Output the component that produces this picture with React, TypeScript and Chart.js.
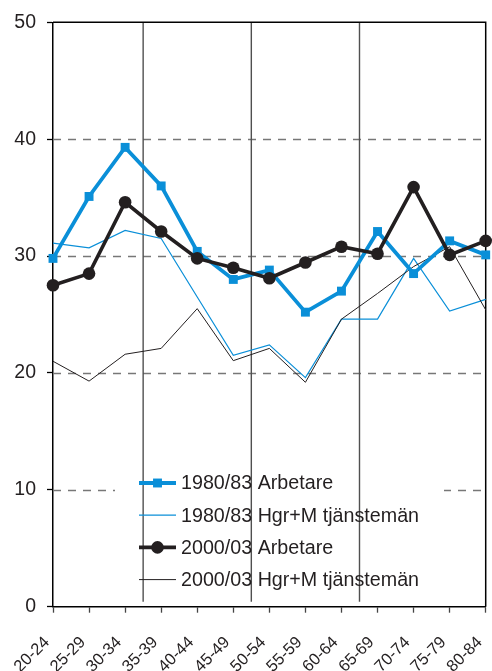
import React, { useEffect, useRef } from "react";
import { Chart, registerables } from "chart.js";

Chart.register(...registerables);

const categories = ["20-24", "25-29", "30-34", "35-39", "40-44", "45-49", "50-54", "55-59", "60-64", "65-69", "70-74", "75-79", "80-84"];
const arbetare1980 = [29.8, 35.1, 39.3, 36.0, 30.4, 28.0, 28.8, 25.2, 27.0, 32.1, 28.5, 31.3, 30.1];
const tjanstemen1980 = [31.1, 30.7, 32.2, 31.5, 26.5, 21.5, 22.4, 19.6, 24.6, 24.6, 29.8, 25.3, 26.3];
const arbetare2000 = [27.5, 28.5, 34.6, 32.1, 29.8, 29.0, 28.1, 29.45, 30.8, 30.2, 35.9, 30.1, 31.3];
const tjanstemen2000 = [21.0, 19.3, 21.6, 22.1, 25.5, 21.05, 22.1, 19.2, 24.6, 26.8, 29.1, 30.8, 25.4];
const seriesLabels = ["1980/83 Arbetare", "1980/83 Hgr+M tjänstemän", "2000/03 Arbetare", "2000/03 Hgr+M tjänstemän"];
const separatorAfterIndex = [2, 5, 8];

const BLUE = "#0a8fd8";
const BLACK = "#231f20";
const FONT = "'Liberation Sans', Arial, sans-serif";

const decorPlugin = {
  id: "decor",
  beforeDatasetsDraw(chart: any) {
    const { ctx, chartArea: a, scales } = chart;
    const x = scales.x;
    const y = scales.y;
    ctx.save();
    ctx.strokeStyle = "#777777";
    ctx.lineWidth = 1.3;
    ctx.setLineDash([8, 7]);
    y.ticks.forEach((t: any) => {
      if (t.value <= y.min || t.value >= y.max) return;
      const py = Math.round(y.getPixelForValue(t.value)) + 0.5;
      ctx.beginPath();
      ctx.moveTo(a.left, py);
      ctx.lineTo(a.right, py);
      ctx.stroke();
    });
    ctx.setLineDash([]);
    ctx.fillStyle = "#ffffff";
    ctx.fillRect(115, 466, 329, 131);
    ctx.strokeStyle = "#505050";
    ctx.lineWidth = 1.4;
    separatorAfterIndex.forEach((i) => {
      const px = (x.getPixelForValue(i) + x.getPixelForValue(i + 1)) / 2;
      ctx.beginPath();
      ctx.moveTo(px, a.top);
      ctx.lineTo(px, a.bottom - 5);
      ctx.stroke();
    });
    ctx.strokeStyle = "#000000";
    ctx.lineWidth = 1.5;
    ctx.beginPath();
    ctx.moveTo(a.left, a.top);
    ctx.lineTo(a.right, a.top);
    ctx.lineTo(a.right, a.bottom);
    ctx.stroke();
    ctx.restore();
  },
  afterDraw(chart: any) {
    const { ctx } = chart;
    const x1 = 139;
    const x2 = 176;
    const y0 = 483;
    const step = 32.2;
    ctx.save();
    chart.data.datasets.forEach((ds: any, i: number) => {
      const yy = y0 + i * step;
      ctx.strokeStyle = ds.borderColor;
      ctx.lineWidth = ds.borderWidth;
      ctx.beginPath();
      ctx.moveTo(x1, yy);
      ctx.lineTo(x2, yy);
      ctx.stroke();
      const cx = (x1 + x2) / 2;
      if (ds.pointStyle === "rect" && ds.pointRadius > 0) {
        const s = ds.pointRadius * Math.SQRT1_2;
        ctx.fillStyle = ds.pointBackgroundColor;
        ctx.fillRect(cx - s, yy - s, 2 * s, 2 * s);
      } else if (ds.pointRadius > 0) {
        ctx.fillStyle = ds.pointBackgroundColor;
        ctx.beginPath();
        ctx.arc(cx, yy, ds.pointRadius, 0, Math.PI * 2);
        ctx.fill();
      }
      ctx.fillStyle = "#231f20";
      ctx.font = `19.7px ${FONT}`;
      ctx.textBaseline = "middle";
      ctx.textAlign = "left";
      ctx.fillText(ds.label, 181, yy + 1);
    });
    ctx.restore();
  },
};

export default function App() {
  const ref = useRef<HTMLCanvasElement | null>(null);
  useEffect(() => {
    if (!ref.current) return;
    const chart = new Chart(ref.current, {
      type: "line",
      data: {
        labels: categories,
        datasets: [
          {
            label: seriesLabels[0],
            data: arbetare1980,
            borderColor: BLUE,
            backgroundColor: BLUE,
            pointBackgroundColor: BLUE,
            pointBorderColor: BLUE,
            borderWidth: 3.8,
            pointStyle: "rect",
            pointRadius: 6.3,
            pointBorderWidth: 0,
            tension: 0,
            order: 1,
          },
          {
            label: seriesLabels[1],
            data: tjanstemen1980,
            borderColor: BLUE,
            backgroundColor: BLUE,
            pointBackgroundColor: BLUE,
            borderWidth: 1.2,
            pointRadius: 0,
            tension: 0,
            order: 3,
          },
          {
            label: seriesLabels[2],
            data: arbetare2000,
            borderColor: BLACK,
            backgroundColor: BLACK,
            pointBackgroundColor: BLACK,
            pointBorderColor: BLACK,
            borderWidth: 3.6,
            pointStyle: "circle",
            pointRadius: 6.3,
            pointBorderWidth: 0,
            tension: 0,
            order: 0,
          },
          {
            label: seriesLabels[3],
            data: tjanstemen2000,
            borderColor: BLACK,
            backgroundColor: BLACK,
            pointBackgroundColor: BLACK,
            borderWidth: 1,
            pointRadius: 0,
            tension: 0,
            order: 2,
          },
        ],
      },
      options: {
        animation: false,
        responsive: true,
        maintainAspectRatio: false,
        clip: false as any,
        layout: { padding: { top: 22.3, left: 0, right: 1.7, bottom: 0 } },
        plugins: { legend: { display: false }, tooltip: { enabled: false } },
        elements: { line: { borderJoinStyle: "miter" } },
        scales: {
          x: {
            type: "category",
            offset: false,
            grid: { display: true, drawOnChartArea: false, drawTicks: true, tickLength: 6, tickColor: "#444", tickWidth: 1.3 },
            border: { display: true, color: "#000", width: 1.5 },
            ticks: {
              autoSkip: false,
              maxRotation: 45,
              minRotation: 45,
              padding: 20,
              labelOffset: -6,
              color: "#231f20",
              font: { family: FONT, size: 16.5 },
            },
            afterFit(scale: any) {
              scale.paddingLeft = 0;
              scale.paddingRight = 0;
              scale.height = 671 - 606.7;
            },
          },
          y: {
            min: 0,
            max: 50,
            ticks: {
              stepSize: 10,
              padding: 11,
              color: "#231f20",
              font: { family: FONT, size: 19.5 },
            },
            grid: { display: true, drawOnChartArea: false, drawTicks: true, tickLength: 6, tickColor: "#000", tickWidth: 1.3 },
            border: { display: true, color: "#000", width: 1.5 },
            afterFit(scale: any) {
              scale.width = 53;
              scale.paddingTop = 0;
              scale.paddingBottom = 0;
            },
          },
        },
      },
      plugins: [decorPlugin],
    });
    return () => chart.destroy();
  }, []);
  return (
    <div style={{ position: "fixed", left: 0, top: 0, width: 492, height: 671, background: "#fff" }}>
      <canvas ref={ref} />
    </div>
  );
}
